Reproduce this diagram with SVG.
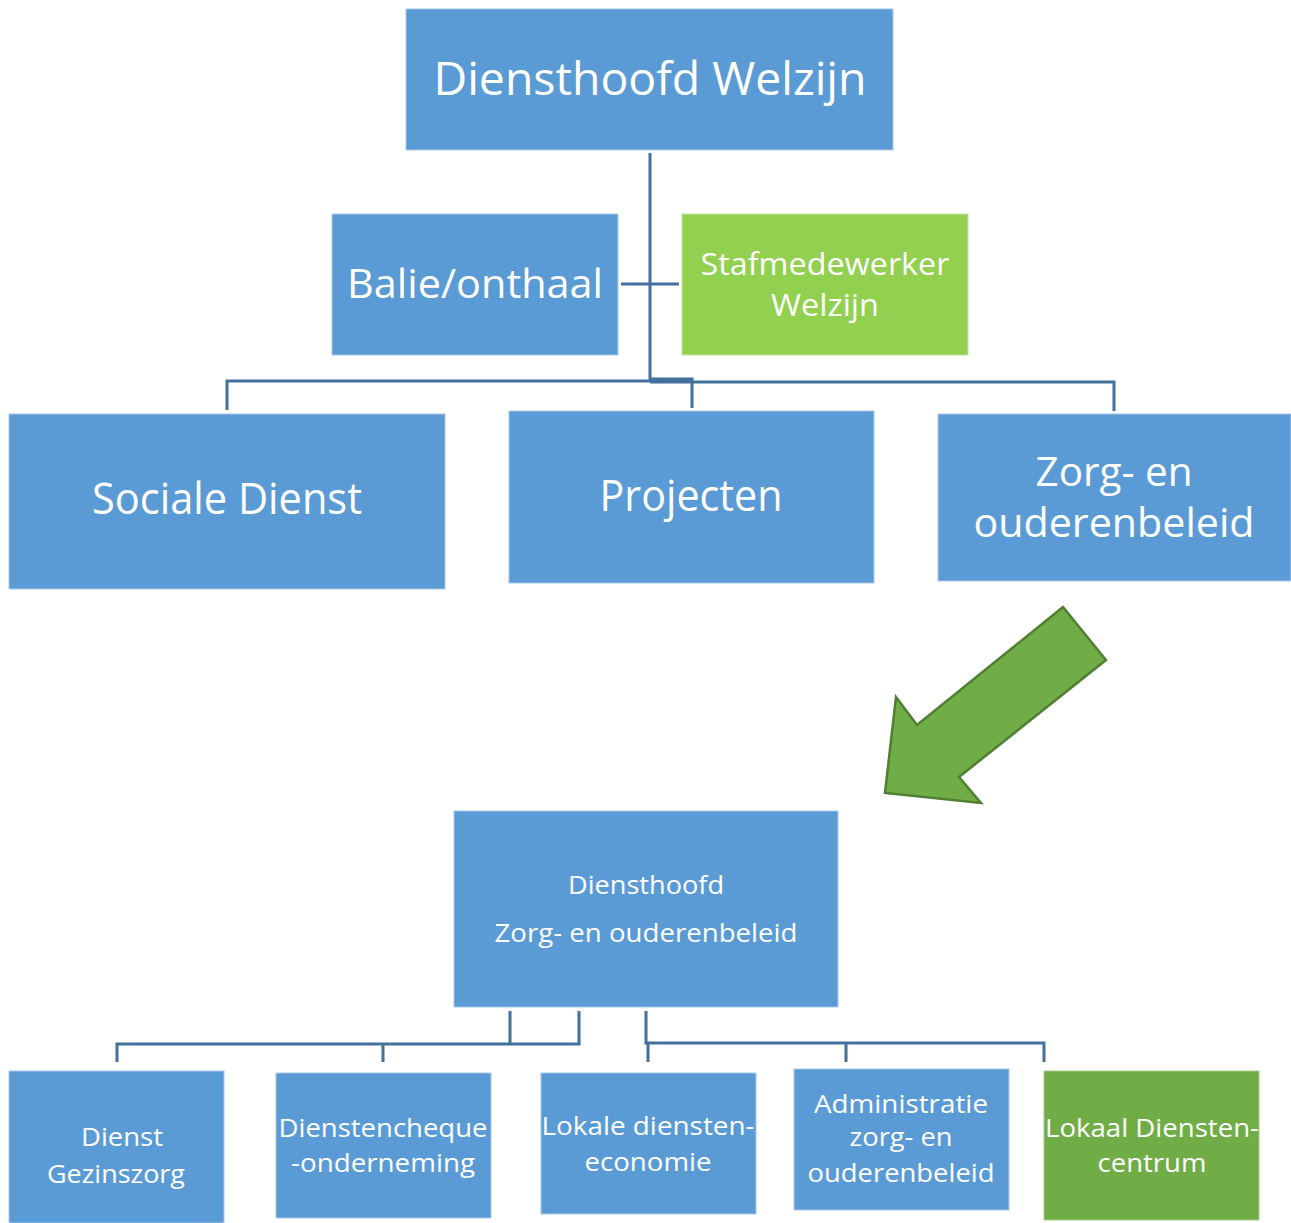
<svg xmlns="http://www.w3.org/2000/svg" width="1291" height="1223" viewBox="0 0 1291 1223">
<style>
.box{fill:#5B9BD5;stroke:#A9C8EA;stroke-width:1}
.g1{fill:#92D050;stroke:#C4E59E;stroke-width:1}
.g2{fill:#70AD47;stroke:#A6CE8C;stroke-width:1}
text{font-family:"Open Sans","Noto Sans","Liberation Sans",sans-serif;fill:#FFFFFF;text-anchor:middle}
.con{fill:none;stroke:#41719C;stroke-width:3}
</style>
<rect width="1291" height="1223" fill="#FFFFFF"/>
<g id="connectors">
<path class="con" d="M650,153 V381 M621,284 H679 M650,381 H227 V410 M650,379 H692 V408 M650,382 H1114 V411"/>
<path class="con" d="M510,1011 V1044 H117 V1062 M383,1044 V1062 M579,1011 V1044 H510 M646,1011 V1043 H1044 V1062 M648,1043 V1062 M846,1043 V1062"/>
</g>
<g id="n-diensthoofd-welzijn">
<rect class="box" x="406" y="9" width="487" height="141"/>
<text x="650" y="95" font-size="46" textLength="433" lengthAdjust="spacingAndGlyphs">Diensthoofd Welzijn</text>
</g>
<g id="n-balie">
<rect class="box" x="332" y="214" width="286" height="141"/>
<text x="475" y="298" font-size="41" textLength="256" lengthAdjust="spacingAndGlyphs">Balie/onthaal</text>
</g>
<g id="n-stafmedewerker">
<rect class="g1" x="682" y="214" width="286" height="141"/>
<text x="825" y="275" font-size="31" textLength="249" lengthAdjust="spacingAndGlyphs">Stafmedewerker</text>
<text x="825" y="316" font-size="31" textLength="108" lengthAdjust="spacingAndGlyphs">Welzijn</text>
</g>
<g id="n-sociale-dienst">
<rect class="box" x="9" y="414" width="436" height="175"/>
<text x="227" y="514" font-size="43" textLength="270" lengthAdjust="spacingAndGlyphs">Sociale Dienst</text>
</g>
<g id="n-projecten">
<rect class="box" x="509" y="411" width="365" height="172"/>
<text x="691" y="511" font-size="43" textLength="183" lengthAdjust="spacingAndGlyphs">Projecten</text>
</g>
<g id="n-zorg">
<rect class="box" x="938" y="414" width="353" height="167"/>
<text x="1114" y="486" font-size="40" textLength="157" lengthAdjust="spacingAndGlyphs">Zorg- en</text>
<text x="1114" y="537" font-size="40" textLength="281" lengthAdjust="spacingAndGlyphs">ouderenbeleid</text>
</g>
<g id="arrow">
<polygon points="1063,607 1106,660 959,777 981,803 885,793 896,697 917,725" fill="#70AD47" stroke="#507E32" stroke-width="2.5" stroke-linejoin="miter"/>
</g>
<g id="n-diensthoofd-zorg">
<rect class="box" x="454" y="811" width="384" height="196"/>
<text x="646" y="894" font-size="26" textLength="156" lengthAdjust="spacingAndGlyphs">Diensthoofd</text>
<text x="646" y="942" font-size="26" textLength="303" lengthAdjust="spacingAndGlyphs">Zorg- en ouderenbeleid</text>
</g>
<g id="n-gezinszorg">
<rect class="box" x="9" y="1071" width="215" height="152"/>
<text x="122" y="1146" font-size="26" textLength="82" lengthAdjust="spacingAndGlyphs">Dienst</text>
<text x="116" y="1183" font-size="26" textLength="138" lengthAdjust="spacingAndGlyphs">Gezinszorg</text>
</g>
<g id="n-dienstencheque">
<rect class="box" x="276" y="1073" width="215" height="145"/>
<text x="383" y="1137" font-size="26" textLength="209" lengthAdjust="spacingAndGlyphs">Dienstencheque</text>
<text x="383" y="1172" font-size="26" textLength="184" lengthAdjust="spacingAndGlyphs">-onderneming</text>
</g>
<g id="n-lokale-economie">
<rect class="box" x="541" y="1073" width="215" height="141"/>
<text x="648" y="1135" font-size="26" textLength="213" lengthAdjust="spacingAndGlyphs">Lokale diensten-</text>
<text x="648" y="1171" font-size="26" textLength="127" lengthAdjust="spacingAndGlyphs">economie</text>
</g>
<g id="n-administratie">
<rect class="box" x="794" y="1069" width="215" height="141"/>
<text x="901" y="1113" font-size="26" textLength="174" lengthAdjust="spacingAndGlyphs">Administratie</text>
<text x="901" y="1146" font-size="26" textLength="103" lengthAdjust="spacingAndGlyphs">zorg- en</text>
<text x="901" y="1182" font-size="26" textLength="187" lengthAdjust="spacingAndGlyphs">ouderenbeleid</text>
</g>
<g id="n-lokaal-dienstencentrum">
<rect class="g2" x="1044" y="1071" width="215" height="149"/>
<text x="1152" y="1137" font-size="26" textLength="214" lengthAdjust="spacingAndGlyphs">Lokaal Diensten-</text>
<text x="1152" y="1172" font-size="26" textLength="109" lengthAdjust="spacingAndGlyphs">centrum</text>
</g>
</svg>
